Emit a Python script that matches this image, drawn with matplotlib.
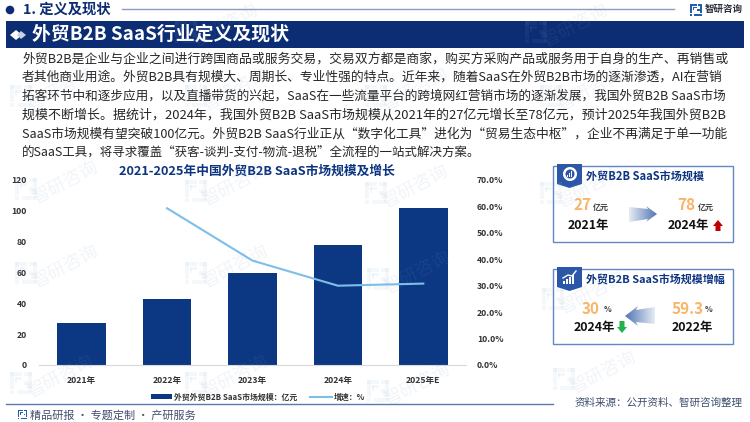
import numpy as np
import matplotlib
matplotlib.use('Agg')
import matplotlib.pyplot as plt
from matplotlib.patches import Polygon, Rectangle, Circle, Wedge
from matplotlib.lines import Line2D

plt.rcParams['font.family'] = ['Noto Sans CJK SC', 'DejaVu Sans']

years = ['2021年', '2022年', '2023年', '2024年', '2025年E']
market_size = [27, 43, 60, 78, 102]
growth_years = ['2022年', '2023年', '2024年', '2025年E']
growth_rate = [59.3, 39.5, 30.0, 30.8]
left_ticks = [0, 20, 40, 60, 80, 100, 120]
right_ticks = [0, 10, 20, 30, 40, 50, 60, 70]

body_lines = [
    '外贸B2B是企业与企业之间进行跨国商品或服务交易，交易双方都是商家，购买方采购产品或服务用于自身的生产、再销售或',
    '者其他商业用途。外贸B2B具有规模大、周期长、专业性强的特点。近年来，随着SaaS在外贸B2B市场的逐渐渗透，AI在营销',
    '拓客环节中和逐步应用，以及直播带货的兴起，SaaS在一些流量平台的跨境网红营销市场的逐渐发展，我国外贸B2B SaaS市场',
    '规模不断增长。据统计，2024年，我国外贸B2B SaaS市场规模从2021年的27亿元增长至78亿元，预计2025年我国外贸B2B',
    'SaaS市场规模有望突破100亿元。外贸B2B SaaS行业正从“数字化工具”进化为“贸易生态中枢”，企业不再满足于单一功能',
]
body_last = '的SaaS工具，将寻求覆盖“获客-谈判-支付-物流-退税”全流程的一站式解决方案。'

NAVY = '#0c2d74'
BAR = '#0c3783'
TITLE = '#0d3480'
LINE = '#7cbfe8'
EDGE = '#6188c2'
ORANGE = '#f9b469'

fig = plt.figure(figsize=(7.5, 4.22), dpi=100, facecolor='white')
ov = fig.add_axes([0, 0, 1, 1], zorder=1)
ov.set_xlim(0, 750); ov.set_ylim(422, 0); ov.axis('off')
top = fig.add_axes([0, 0, 1, 1], zorder=5)
top.set_xlim(0, 750); top.set_ylim(422, 0); top.axis('off'); top.patch.set_alpha(0)


def fit(ax, x, y, s, width, size, **kw):
    t = ax.text(x, y, s, fontsize=size, va='center', **kw)
    w = t.get_window_extent(fig.canvas.get_renderer()).width
    t.set_fontsize(size * width / w)
    return t


def logo(ax, x, y, s, color, alpha=1.0, z=3):
    for r in [(0, 0, .55, .16), (0, 0, .16, .75), (.22, .22, .33, .14), (.22, .22, .12, .3),
              (.65, 0, .35, .16), (.84, 0, .16, .75), (.3, .84, .7, .16), (.62, .42, .18, .18)]:
        ax.add_patch(Rectangle((x + r[0] * s, y + r[1] * s), r[2] * s, r[3] * s, fc=color, ec='none',
                               alpha=alpha, zorder=z))
    ax.add_patch(Rectangle((x, y + .84 * s), .16 * s, .16 * s, fc=color, ec='none', alpha=alpha, zorder=z))


def grad_arrow(ax, pts, x0, x1, c0, c1):
    rgb0 = np.array(matplotlib.colors.to_rgb(c0)); rgb1 = np.array(matplotlib.colors.to_rgb(c1))
    g = np.linspace(0, 1, 64)[None, :, None]
    img = rgb0 + (rgb1 - rgb0) * g
    ys = [p[1] for p in pts]
    im = ax.imshow(img, extent=(x0, x1, max(ys), min(ys)), aspect='auto', zorder=3)
    im.set_clip_path(Polygon(pts, transform=ax.transData))
    ax.set_xlim(0, 750); ax.set_ylim(422, 0)


# header
ov.add_patch(Circle((10, 10), 4.3, fc=NAVY, ec='none'))
ov.text(23, 9.5, '1. 定义及现状', fontsize=10.3, fontweight='bold', color=NAVY, va='center')
ov.add_line(Line2D([122, 674], [9, 9], color='#8d9dc0', lw=1))
logo(ov, 690, 4, 12, '#1f5fae')
ov.text(705, 8.5, '智研咨询', fontsize=6.8, fontweight='bold', color='#2b2f3a', va='center')
ov.add_patch(Rectangle((6, 21), 738, 26.5, fc=NAVY, ec='none'))
ov.add_patch(Polygon([(10, 35), (16, 30), (22, 35), (16, 40)], fc='white', ec='none'))
ov.add_patch(Polygon([(17, 35), (21, 31), (26, 35), (21, 39)], fc='#c8d2e6', ec='none'))
fit(ov, 32, 34, '外贸B2B SaaS行业定义及现状', 257, 15.5, fontweight='bold', color='white')

# body
for s, yy in zip(body_lines, [59, 77, 96, 115, 134]):
    fit(ov, 22, yy, s, 704, 9, color='#262626')
fit(ov, 22, 153, body_last, 457, 9, color='#262626')

# chart
ax = fig.add_axes([39 / 750, 1 - 365 / 422, 427 / 750, 185 / 422], zorder=2)
ax.patch.set_alpha(0)
x = np.arange(len(years))
ax.bar(x, market_size, width=0.57, color=BAR, label='外贸外贸B2B SaaS市场规模：亿元')
ax.set_xlim(-0.5, 4.5); ax.set_ylim(0, 120)
ax.set_xticks(x, years)
ax.set_yticks(left_ticks)
ax.tick_params(axis='y', length=0, labelsize=6.2, labelcolor='#333333', pad=9)
ax.tick_params(axis='x', length=0, labelsize=6.2, labelcolor='#333333', pad=8)
for lab in ax.get_xticklabels() + ax.get_yticklabels():
    lab.set_fontweight('bold')
for sp in ['top', 'left', 'right']:
    ax.spines[sp].set_visible(False)
ax.spines['bottom'].set_color('#d9d9d9')
ax2 = ax.twinx()
ax2.plot([years.index(g) for g in growth_years], growth_rate, color=LINE, lw=1.5, label='增速：%')
ax2.set_ylim(0, 70)
ax2.set_yticks(right_ticks, [f'{v:.1f}%' for v in right_ticks])
ax2.tick_params(length=0, labelsize=6.2, labelcolor='#333333', pad=8)
for lab in ax2.get_yticklabels():
    lab.set_fontweight('bold')
for sp in ax2.spines.values():
    sp.set_visible(False)

ov.text(257, 171, '2021-2025年中国外贸B2B SaaS市场规模及增长', fontsize=9.2, fontweight='bold',
        color=TITLE, ha='center', va='center')
h1, l1 = ax.get_legend_handles_labels()
h2, l2 = ax2.get_legend_handles_labels()
fig.legend(h1 + h2, l1 + l2, ncol=2, loc='center', bbox_to_anchor=(258 / 750, 1 - 397 / 422), frameon=False,
           prop={'size': 5.7, 'weight': 'bold'}, labelcolor='#333333', handlelength=2.7, handleheight=0.55,
           columnspacing=1.6, handletextpad=0.3, borderpad=0)

# footer
ov.add_line(Line2D([6, 553], [404, 404], color='#5b78b0', lw=1))
logo(ov, 18, 410, 9, '#1f5fae')
ov.text(30, 415.5, '精品研报 · 专题定制 · 产研服务', fontsize=8, color='#41506f', va='center')
ov.text(575, 403, '资料来源：公开资料、智研咨询整理', fontsize=7.6, color='#41506f', va='center')


# cards
def card(y0, y1, ry1, title, tw):
    ov.add_patch(Rectangle((553, y0), 180, y1 - y0, fc='white', ec=EDGE, lw=1))
    ov.add_patch(Polygon([(557, y0 - 2), (582, y0 - 2), (582, ry1 - 4), (569.5, ry1), (557, ry1 - 4)],
                         fc='#2c57a8', ec='none'))
    fit(ov, 586, y0 + 10.5, title, tw, 8.7, fontweight='bold', color=TITLE)


card(166, 242, 188, '外贸B2B SaaS市场规模', 118)
card(269, 344, 291, '外贸B2B SaaS市场规模增幅', 139)
ov.add_patch(Wedge((570, 174), 7, 0, 360, width=2.5, fc='white', ec='none'))
for i, h in enumerate([2, 4, 6]):
    ov.add_patch(Rectangle((567 + 2 * i, 177 - h), 1.4, h, fc='white', ec='none'))
for i, h in enumerate([3, 5, 7, 9]):
    ov.add_patch(Rectangle((563 + 3 * i, 284 - h), 2, h, fc='white', ec='none'))
ov.add_line(Line2D([563, 568, 572, 576], [278, 275, 276, 271], color='white', lw=1))

big = dict(fontsize=11, fontweight='bold', color=ORANGE, ha='center', va='center')
unit = dict(fontsize=5.8, fontweight='bold', color='#404040', ha='center', va='center')
yr = dict(fontsize=8.9, fontweight='bold', color='#111111', ha='center', va='center')
ov.text(583, 205, '27', **big); ov.text(601, 207, '亿元', **unit)
ov.text(686.5, 205, '78', **big); ov.text(706, 207, '亿元', **unit)
ov.text(588, 225, '2021年', **yr); ov.text(688, 225, '2024年', **yr)
ov.text(591, 309, '30', **big); ov.text(608, 310, '%', **unit)
ov.text(688, 309, '59.3', **big); ov.text(709, 310, '%', **unit)
ov.text(594, 328, '2024年', **yr); ov.text(692, 328, '2022年', **yr)
ov.add_patch(Polygon([(713, 226), (718, 220), (723, 226), (720.5, 226), (720.5, 231), (715.5, 231), (715.5, 226)],
                     fc='#c00000', ec='none'))
ov.add_patch(Polygon([(617, 327), (622, 333), (627, 327), (624.5, 327), (624.5, 321), (619.5, 321), (619.5, 327)],
                     fc='#22b14c', ec='none'))
grad_arrow(ov, [(629, 207), (648, 209), (646, 206), (657, 214), (646, 222), (648, 219), (629, 222)],
           629, 657, '#e6ebf4', '#5176b4')
grad_arrow(ov, [(655, 307), (636, 310), (638, 306), (625, 316), (638, 326), (636, 322), (655, 324)],
           625, 655, '#5176b4', '#e6ebf4')

# watermark
for wx, wy in [(65, 183), (235, 185), (415, 187), (590, 187), (65, 267), (235, 267), (417, 273), (592, 293),
               (60, 377), (235, 377), (417, 385), (603, 373), (60, 90), (235, 90), (415, 90), (590, 90),
               (225, 26), (575, 26)]:
    logo(top, wx - 50, wy - 5, 22, '#7fa6d6', alpha=0.08, z=6)
    top.text(wx, wy, '智研咨询', fontsize=13, color='#7f98bd', alpha=0.11, rotation=28, ha='center',
             va='center', zorder=6)

fig.savefig('out.png', dpi=100)
